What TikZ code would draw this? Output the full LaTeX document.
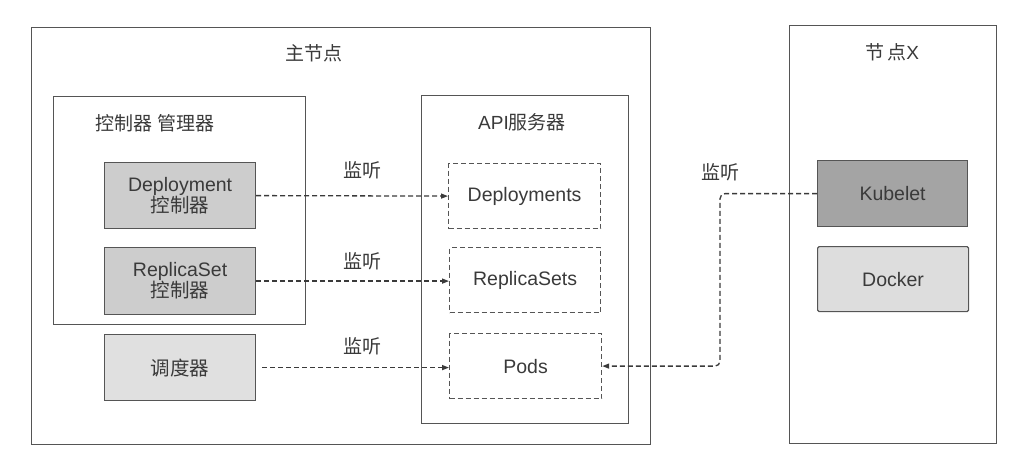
\documentclass[tikz,border=0pt]{standalone}
\usepackage{fontspec}
\setmainfont{Liberation Sans}
\newfontfamily\cjk{Noto Sans CJK SC}
\usetikzlibrary{arrows.meta,positioning}
\definecolor{ink}{HTML}{3A3A3A}
\definecolor{edge}{HTML}{555555}
\definecolor{ctrlfill}{HTML}{CDCDCD}
\definecolor{schfill}{HTML}{E0E0E0}
\definecolor{kubfill}{HTML}{A4A4A4}
\definecolor{dockfill}{HTML}{DDDDDD}
\tikzset{
  box/.style={draw=edge, line width=1.2pt, anchor=north west, inner sep=0pt},
  filledbox/.style={box, align=center, text=ink, font=\fontsize{19.5}{23}\selectfont},
  dbox/.style={draw=edge, line width=1.2pt, dash pattern=on 5pt off 3pt, anchor=north west, inner sep=0pt, align=center, text=ink, font=\fontsize{19.5}{23}\selectfont},
  ttl/.style={text=ink, font=\fontsize{19}{23}\selectfont, inner sep=0pt},
  conn/.style={draw=ink, line width=1.3pt, dash pattern=on 5pt off 3pt, -{Triangle[length=7pt,width=5pt]}},
  lbl/.style={text=ink, font=\fontsize{19}{23}\selectfont\cjk, inner sep=0pt}
}
\begin{document}
\begin{tikzpicture}[x=1pt,y=-1pt]
\useasboundingbox (0,0) rectangle (1027,457);
% master node
\node[box, minimum width=619pt, minimum height=417pt] (master) at (31,27) {};
\node[ttl] (mastert) at (314,53) {\cjk 主节点};
% controller manager
\node[box, minimum width=252pt, minimum height=228pt] (cm) at (53,96) {};
\node[ttl] (cmt) at (155,123) {\cjk 控制器 管理器};
\node[filledbox, fill=ctrlfill, minimum width=151pt, minimum height=66pt] (dc) at (104,162) {Deployment\\[-2pt]{\cjk 控制器}};
\node[filledbox, fill=ctrlfill, minimum width=151pt, minimum height=67pt] (rc) at (104,247) {ReplicaSet\\[-2pt]{\cjk 控制器}};
\node[filledbox, fill=schfill, minimum width=151pt, minimum height=66pt] (sch) at (104,334) {\cjk 调度器};
% api server
\node[box, minimum width=207pt, minimum height=328pt] (api) at (421,95) {};
\node[ttl] (apit) at (522,122) {API{\cjk 服务器}};
\node[dbox, minimum width=152pt, minimum height=65pt] (deps) at (448,163) {Deployments};
\node[dbox, minimum width=151pt, minimum height=65pt] (rss) at (449,247) {ReplicaSets};
\node[dbox, minimum width=152pt, minimum height=65pt] (pods) at (449,333) {Pods};
% node X
\node[box, minimum width=207pt, minimum height=418pt] (nodex) at (789,25) {};
\node[ttl] (nodext) at (892,52) {{\cjk 节}\,{\cjk 点}X};
\node[filledbox, fill=kubfill, minimum width=150pt, minimum height=66pt] (kub) at (817,160) {Kubelet};
\node[filledbox, fill=dockfill, rounded corners=1.5pt, minimum width=151pt, minimum height=65pt] (dock) at (817,246) {Docker};
% connectors
\draw[conn] (dc.east) -- (deps.west);
\node[lbl] (l1) at (362,170) {监听};
\draw[conn] (rc.east) -- (rss.west |- rc.east);
\node[lbl] (l2) at (362,261) {监听};
\draw[conn, shorten <=6pt] (sch.east) -- (pods.west |- sch.east);
\node[lbl] (l3) at (362,346) {监听};
\draw[conn, rounded corners=5pt] (kub.west) -- ++(-97pt,0) |- (pods.east);
\node[lbl] (l4) at (720,172) {监听};
\end{tikzpicture}
\end{document}
